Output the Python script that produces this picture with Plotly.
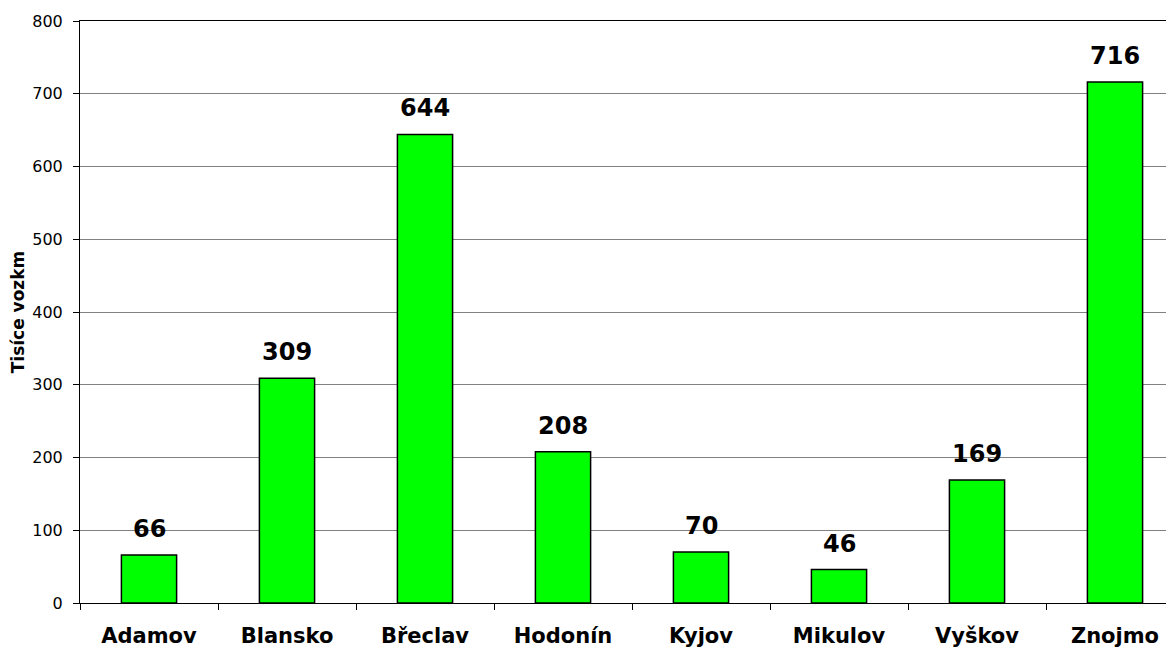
import plotly.graph_objects as go

categories = ["Adamov", "Blansko", "Břeclav", "Hodonín", "Kyjov", "Mikulov", "Vyškov", "Znojmo"]
values = [66, 309, 644, 208, 70, 46, 169, 716]
y_ticks = [0, 100, 200, 300, 400, 500, 600, 700, 800]

FONT = "DejaVu Sans"

fig = go.Figure(go.Bar(
    x=categories,
    y=values,
    width=0.4,
    marker=dict(color="#00FF00", line=dict(color="black", width=1.5)),
))

for c, v in zip(categories, values):
    fig.add_annotation(
        x=c, y=v, text=str(v), showarrow=False,
        xanchor="center", yanchor="bottom", yshift=10,
        font=dict(family=FONT, size=24, color="black", weight="bold"),
    )

# page body has an 8px margin; compensate so the plot lands where the reference has it
fig.update_layout(
    width=1166, height=642,
    margin=dict(l=72, r=0, t=13, b=47),
    plot_bgcolor="white", paper_bgcolor="white",
    showlegend=False,
    font=dict(family=FONT, color="black"),
)
fig.update_xaxes(
    type="category",
    range=[-0.5, 7.5 - 10 / 138],
    showline=True, linecolor="black", linewidth=1, mirror=True,
    ticks="outside", tickson="boundaries", ticklen=6, tickcolor="black",
    tickfont=dict(family=FONT, size=21, weight="bold"),
    ticklabelstandoff=14,
    showgrid=False,
)
fig.update_yaxes(
    range=[0, 800],
    tickvals=y_ticks,
    showline=True, linecolor="black", linewidth=1,
    ticks="outside", ticklen=6, tickcolor="black",
    tickfont=dict(family=FONT, size=16),
    ticklabelstandoff=7,
    showgrid=True, gridcolor="#808080", gridwidth=1,
    zeroline=True, zerolinecolor="black", zerolinewidth=1,
    title=dict(text="Tisíce vozkm", font=dict(family=FONT, size=17, weight="bold"), standoff=4),
)

fig.write_html("out.html")
